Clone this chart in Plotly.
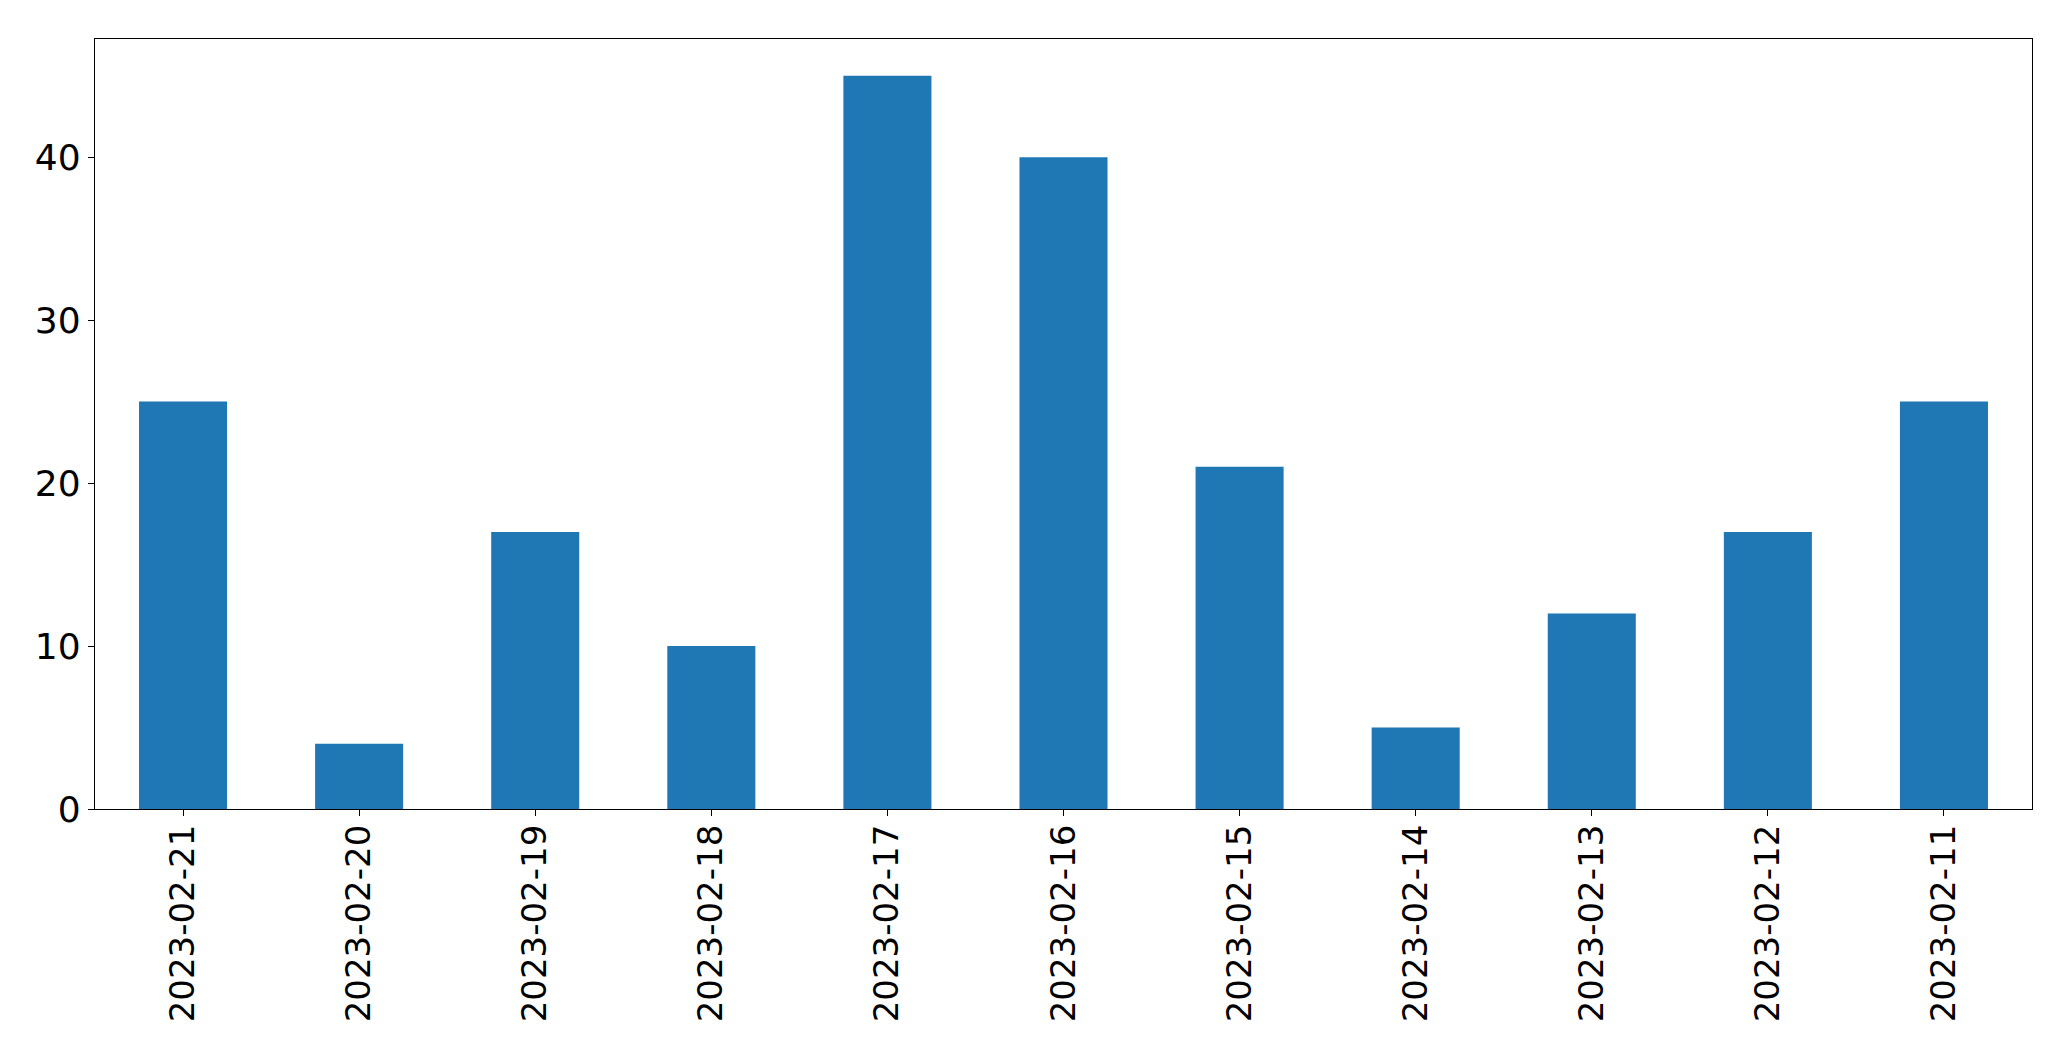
import plotly.graph_objects as go

dates = ["2023-02-21", "2023-02-20", "2023-02-19", "2023-02-18", "2023-02-17",
         "2023-02-16", "2023-02-15", "2023-02-14", "2023-02-13", "2023-02-12", "2023-02-11"]
counts = [25, 4, 17, 10, 45, 40, 21, 5, 12, 17, 25]
y_ticks = [0, 10, 20, 30, 40]

fig = go.Figure(go.Bar(x=dates, y=counts, width=0.5, marker=dict(color="#1f77b4", line=dict(width=0))))

fig.update_layout(
    width=2063, height=1053,
    margin=dict(l=87, r=39, t=31, b=252, autoexpand=False),
    paper_bgcolor="white", plot_bgcolor="white",
    font=dict(family="DejaVu Sans", size=34, color="black"),
    showlegend=False,
)
fig.update_xaxes(
    type="category", range=[-0.5, 10.5], tickangle=-90,
    showline=True, mirror=True, linecolor="black", linewidth=1.3,
    ticks="outside", ticklen=6, tickwidth=1.3, tickcolor="black",
    showgrid=False, zeroline=False, ticklabelstandoff=-5,
)
fig.update_yaxes(
    range=[0, 47.25], tickvals=y_ticks,
    showline=True, mirror=True, linecolor="black", linewidth=1.3,
    ticks="outside", ticklen=6, tickwidth=1.3, tickcolor="black",
    showgrid=False, zeroline=False, ticklabelstandoff=0,
    tickfont=dict(size=36),
)
fig.write_html("out.html")
